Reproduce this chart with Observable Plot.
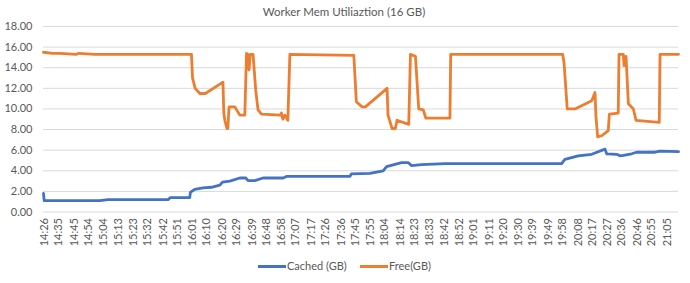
<!DOCTYPE html>
<html>
<head>
<meta charset="utf-8">
<script src="https://cdn.jsdelivr.net/npm/d3@7"></script>
<script src="https://cdn.jsdelivr.net/npm/@observablehq/plot@0.6"></script>
<style>
  html, body { margin: 0; padding: 0; background: #fff; }
  #wrap { position: relative; width: 690px; height: 283px; font-family: Lato, "Open Sans", sans-serif; color: #595959; }
  #title { position: absolute; left: 0; width: 688px; top: 5px; text-align: center; font-size: 11.5px; }
  #legend { position: absolute; top: 259px; left: 0; width: 690px; font-size: 11px; }
  .sw { position: absolute; height: 3px; top: 6px; width: 28px; }
  .lb { position: absolute; top: 0; }
</style>
</head>
<body>
<div id="wrap">
  <div id="chart"></div>
  <div id="title">Worker Mem Utiliaztion (16 GB)</div>
  <div id="legend">
    <div class="sw" style="left:258px;background:#4472C4"></div><div class="lb" style="left:287px">Cached (GB)</div>
    <div class="sw" style="left:360px;background:#ED7D31"></div><div class="lb" style="left:389px">Free(GB)</div>
  </div>
</div>
<script>
const title = "Worker Mem Utiliaztion (16 GB)";
const yTicks = [0, 2, 4, 6, 8, 10, 12, 14, 16, 18];
const xTickLabels = ["14:26","14:35","14:45","14:54","15:04","15:13","15:23","15:32","15:42","15:51",
  "16:01","16:10","16:20","16:29","16:39","16:48","16:58","17:07","17:17","17:26","17:36",
  "17:45","17:55","18:04","18:14","18:23","18:33","18:42","18:52","19:01","19:11","19:20",
  "19:30","19:39","19:49","19:58","20:08","20:17","20:27","20:36","20:46","20:55","21:05"];

const cachedTimes = ["14:25:15","14:25:40","15:01:18","15:06:36","15:45:06","15:46:36","15:59:00","15:59:24",
  "16:02:12","16:07:30","16:12:54","16:18:18","16:20:00","16:24:42","16:31:06","16:34:54","16:36:24","16:40:42",
  "16:46:00","16:58:54","17:01:00","17:41:36","17:42:42","17:54:30","18:03:00","18:05:12","18:14:48","18:19:00",
  "18:21:12","18:27:36","18:42:36","19:57:24","19:59:30","20:08:00","20:16:42","20:25:12","20:26:18","20:32:42",
  "20:34:48","20:37:00","20:42:18","20:45:30","20:57:18","21:00:30","21:12:20"];
const cachedValues = [1.8,1.1,1.1,1.2,1.2,1.4,1.4,1.9,
  2.2,2.35,2.4,2.6,2.9,3.0,3.3,3.3,3.05,3.05,
  3.3,3.3,3.45,3.45,3.7,3.75,4.0,4.4,4.8,4.8,
  4.5,4.6,4.7,4.7,5.1,5.45,5.6,6.1,5.65,5.6,
  5.45,5.5,5.65,5.8,5.8,5.9,5.85];

const freeTimes = ["14:25:15","14:31:00","14:36:00","14:46:00","14:48:00","14:58:00","16:00:06","16:00:48",
  "16:02:30","16:05:30","16:09:00","16:20:18","16:20:48","16:21:30","16:22:54","16:23:24","16:24:12","16:27:54",
  "16:31:06","16:34:18","16:35:24","16:36:12","16:37:00","16:37:48","16:39:36","16:41:18","16:42:48","16:45:00",
  "16:57:00","16:57:48","16:58:42","17:00:00","17:01:54","17:03:12","17:44:12","17:45:48","17:49:30","17:51:36",
  "18:05:30","18:06:06","18:08:42","18:10:48","18:11:54","18:19:24","18:20:30","18:23:42","18:25:48","18:28:42",
  "18:30:24","18:45:48","18:46:18","19:58:06","19:59:00","20:01:00","20:06:00","20:16:42","20:18:48","20:19:24",
  "20:20:30","20:23:06","20:27:18","20:28:00","20:33:42","20:34:12","20:37:00","20:37:24","20:38:42","20:40:12",
  "20:43:24","20:45:06","21:00:00","21:00:30","21:12:20"];
const freeValues = [15.5,15.4,15.4,15.3,15.4,15.3,15.3,13.0,
  12.0,11.5,11.5,12.6,9.7,8.9,8.1,8.1,10.2,10.2,
  9.4,9.4,15.4,15.3,13.8,15.3,15.3,11.8,9.9,9.5,
  9.4,9.6,9.0,9.4,8.9,15.3,15.2,10.7,10.2,10.2,
  12.0,9.4,8.1,8.1,8.9,8.5,15.3,15.1,10.0,9.9,
  9.1,9.1,15.3,15.3,14.4,10.0,10.0,10.8,11.6,9.3,
  7.3,7.4,7.9,9.5,9.6,15.3,15.3,14.2,15.1,10.5,
  10.0,8.9,8.7,15.3,15.3];

const toMin = s => { const [h, m, sec = 0] = s.split(":").map(Number); return h * 60 + m + sec / 60; };
const cached = cachedTimes.map((t, i) => ({x: toMin(t), y: cachedValues[i]}));
const free = freeTimes.map((t, i) => ({x: toMin(t), y: freeValues[i]}));
const xTicks = xTickLabels.map(toMin);
const labelOf = new Map(xTicks.map((v, i) => [v, xTickLabels[i]]));

const chart = Plot.plot({
  width: 690,
  height: 283,
  marginTop: 26,
  marginBottom: 71.5,
  marginLeft: 43,
  marginRight: 12,
  style: {fontFamily: "Lato, 'Open Sans', sans-serif", fontSize: "11px", color: "#595959", background: "transparent"},
  x: {type: "linear", domain: d3.extent(cached.concat(free), d => d.x)},
  y: {domain: [0, 18]},
  marks: [
    Plot.ruleY(yTicks, {stroke: "#d9d9d9", strokeWidth: 1}),
    Plot.axisY({ticks: yTicks, tickFormat: d3.format(".2f"), tickSize: 0, tickPadding: 11, label: null}),
    Plot.axisX({ticks: xTicks, tickFormat: d => labelOf.get(d), tickRotate: -90, tickSize: 0, tickPadding: 6, label: null}),
    Plot.line(cached, {x: "x", y: "y", stroke: "#4472C4", strokeWidth: 2.8, strokeLinejoin: "round"}),
    Plot.line(free, {x: "x", y: "y", stroke: "#ED7D31", strokeWidth: 2.8, strokeLinejoin: "round"})
  ]
});
document.getElementById("chart").appendChild(chart);
document.getElementById("title").textContent = title;
</script>
</body>
</html>
